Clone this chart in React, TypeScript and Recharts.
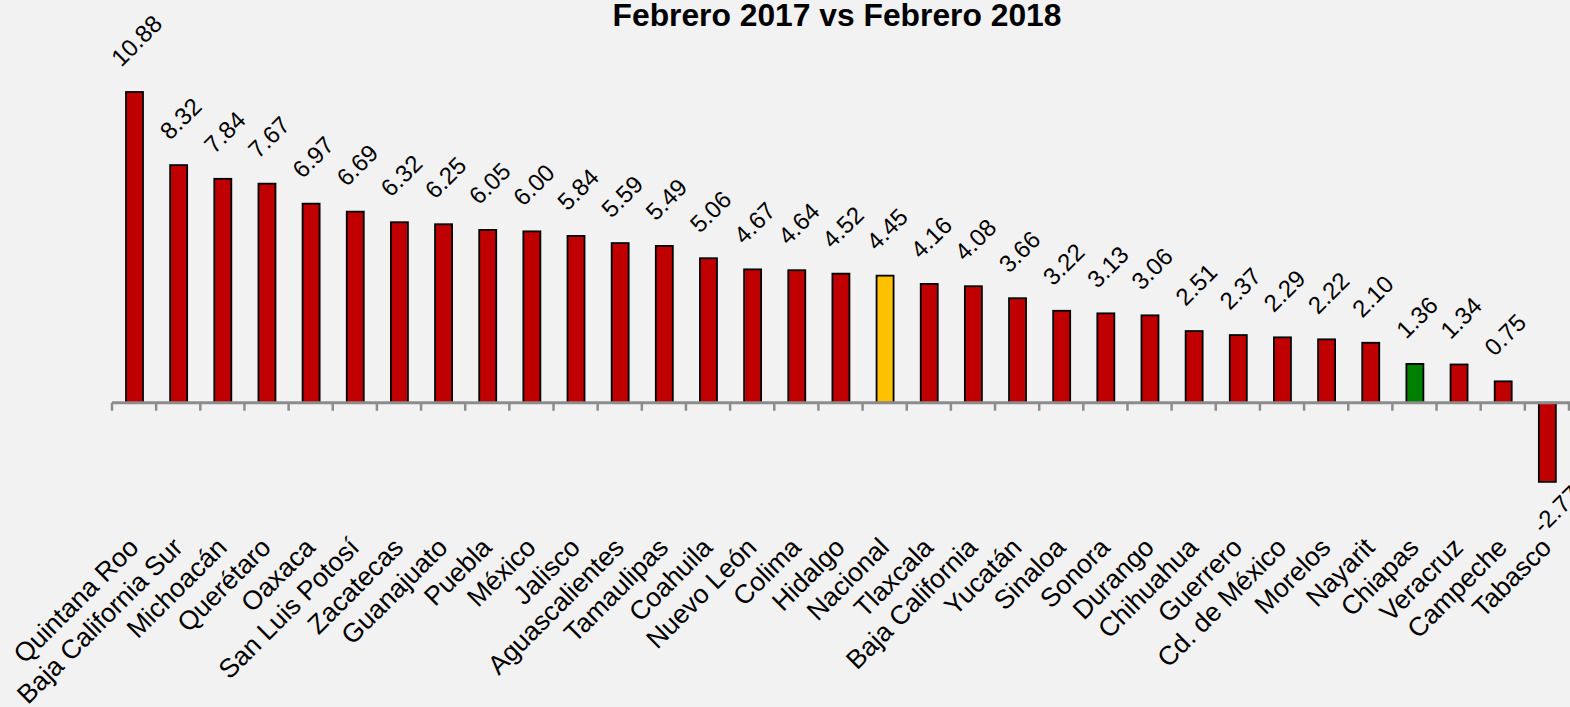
import React from "react";
import { BarChart, Bar, XAxis, YAxis, ReferenceLine } from "recharts";

const categories = [
  "Quintana Roo", "Baja California Sur", "Michoacán", "Querétaro", "Oaxaca",
  "San Luis Potosí", "Zacatecas", "Guanajuato", "Puebla", "México", "Jalisco",
  "Aguascalientes", "Tamaulipas", "Coahuila", "Nuevo León", "Colima", "Hidalgo",
  "Nacional", "Tlaxcala", "Baja California", "Yucatán", "Sinaloa", "Sonora",
  "Durango", "Chihuahua", "Guerrero", "Cd. de México", "Morelos", "Nayarit",
  "Chiapas", "Veracruz", "Campeche", "Tabasco",
];

const values = [
  10.88, 8.32, 7.84, 7.67, 6.97, 6.69, 6.32, 6.25, 6.05, 6.0, 5.84, 5.59, 5.49,
  5.06, 4.67, 4.64, 4.52, 4.45, 4.16, 4.08, 3.66, 3.22, 3.13, 3.06, 2.51, 2.37,
  2.29, 2.22, 2.1, 1.36, 1.34, 0.75, -2.77,
];

const highlight: Record<string, string> = {
  Nacional: "#FFC000",
  Chiapas: "#008000",
};

const rows = categories.map((name, i) => ({ name, value: values[i] }));

const FONT = "'Liberation Sans', Arial, sans-serif";
const VALUE_SIZE = 24;
const CAT_SIZE = 26.5;

// rough advance width of a number label, in px
function labelWidth(s: string) {
  let w = 0;
  for (const ch of s) w += ch === "." ? 0.278 : ch === "-" ? 0.333 : 0.556;
  return w * VALUE_SIZE;
}

function BarWithLabel(props: any) {
  const { x, y, width, height, payload } = props;
  const top = Math.min(y, y + height);
  const h = Math.abs(height);
  const v = payload.value as number;
  const fill = highlight[payload.name] || "#C00000";
  const text = v.toFixed(2);
  const half = (0.707 * (labelWidth(text) + 0.716 * VALUE_SIZE)) / 2;
  const cx = v >= 0 ? x + width / 2 + 2 : x + width / 2 + 9;
  const cy = v >= 0 ? top - 24 - half : top + h + 2 + half;
  return (
    <g>
      <rect x={x} y={top} width={width} height={h} fill={fill} stroke="#000" strokeWidth={1.8} />
      <text
        x={cx}
        y={cy}
        dy="0.35em"
        textAnchor="middle"
        transform={`rotate(-45 ${cx} ${cy})`}
        fontFamily={FONT}
        fontSize={VALUE_SIZE}
        fill="#000"
      >
        {text}
      </text>
    </g>
  );
}

function CategoryTick(props: any) {
  const { x, y, payload } = props;
  const px = x + 6;
  const py = y + 32;
  return (
    <text
      x={px}
      y={py}
      textAnchor="end"
      transform={`rotate(-45 ${px} ${py})`}
      fontFamily={FONT}
      fontSize={CAT_SIZE}
      fill="#000"
    >
      {payload.value}
    </text>
  );
}

function ZeroAxis(props: any) {
  const { x1, y1, x2 } = props;
  const n = categories.length;
  const step = (x2 - x1) / n;
  const marks = [];
  for (let i = 0; i <= n; i++) {
    const tx = x1 + i * step;
    marks.push(<line key={i} x1={tx} x2={tx} y1={y1} y2={y1 + 8} stroke="#8C8C8C" strokeWidth={2.5} />);
  }
  return (
    <g>
      <line x1={x1} x2={x2 + 2} y1={y1} y2={y1} stroke="#8C8C8C" strokeWidth={3} />
      {marks}
    </g>
  );
}

export default function App() {
  return (
    <div
      style={{
        position: "absolute",
        left: 0,
        top: 0,
        width: 1570,
        height: 707,
        background: "#F2F2F2",
        overflow: "hidden",
      }}
    >
      <div
        style={{
          position: "absolute",
          left: 837,
          top: 0,
          transform: "translateX(-50%)",
          fontFamily: FONT,
          fontWeight: "bold",
          fontSize: 31.8,
          lineHeight: "31px",
          whiteSpace: "nowrap",
          color: "#000",
        }}
      >
        Febrero 2017 vs Febrero 2018
      </div>
      <BarChart
        width={1570}
        height={707}
        data={rows}
        margin={{ top: 60, right: 1, bottom: 160, left: 112 }}
      >
        <XAxis
          dataKey="name"
          axisLine={false}
          tickLine={false}
          tickSize={0}
          tickMargin={0}
          interval={0}
          height={30}
          tick={<CategoryTick />}
        />
        <YAxis hide domain={[-4, 12]} />
        <Bar dataKey="value" barSize={17} shape={<BarWithLabel />} isAnimationActive={false} />
        <ReferenceLine y={0} shape={(p: any) => <ZeroAxis {...p} />} />
      </BarChart>
    </div>
  );
}
